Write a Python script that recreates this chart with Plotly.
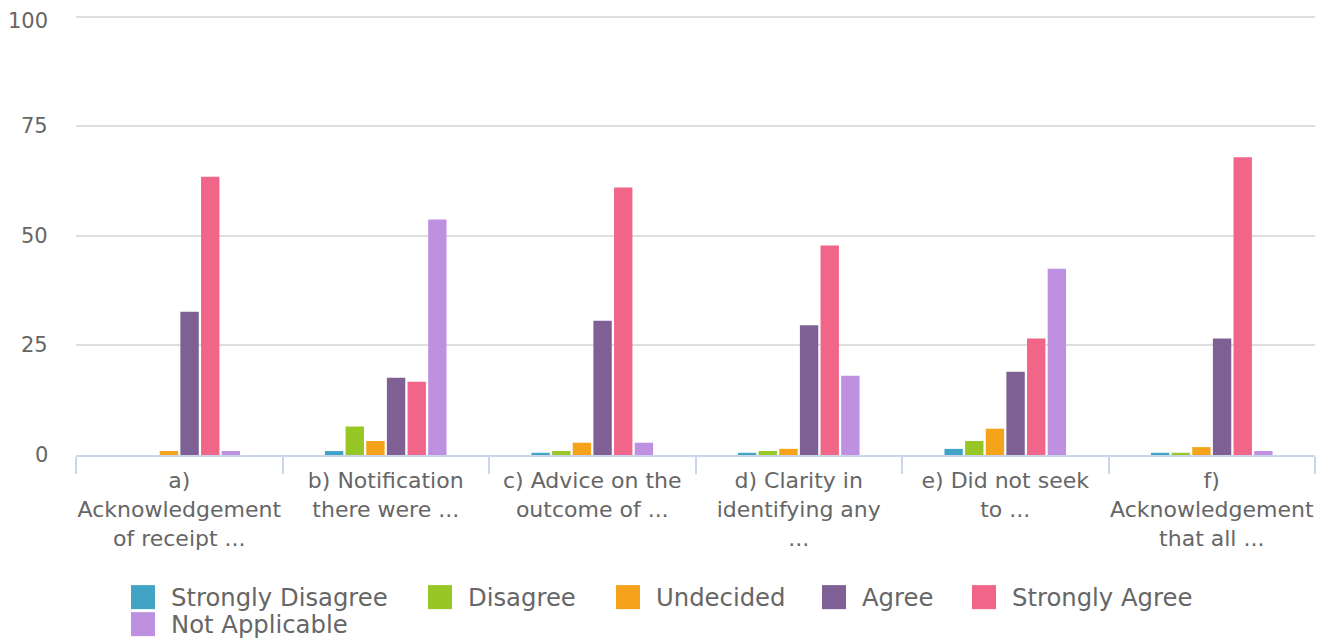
import plotly.graph_objects as go

categories = [
    "a)<br>Acknowledgement<br>of receipt ...",
    "b) Notification<br>there were ...",
    "c) Advice on the<br>outcome of ...",
    "d) Clarity in<br>identifying any<br>...",
    "e) Did not seek<br>to ...",
    "f)<br>Acknowledgement<br>that all ...",
]
series_names = ["Strongly Disagree", "Disagree", "Undecided", "Agree",
                "Strongly Agree", "Not Applicable"]
strongly_disagree = [0, 0.9, 0.5, 0.5, 1.4, 0.5]
disagree = [0, 6.5, 0.9, 0.9, 3.2, 0.5]
undecided = [0.9, 3.2, 2.8, 1.4, 6.0, 1.8]
agree = [32.7, 17.6, 30.6, 29.6, 19.0, 26.6]
strongly_agree = [63.5, 16.7, 61.0, 47.8, 26.6, 67.9]
not_applicable = [0.9, 53.7, 2.8, 18.1, 42.5, 0.9]
y_ticks = [0, 25, 50, 75, 100]

series_values = [strongly_disagree, disagree, undecided, agree,
                 strongly_agree, not_applicable]
colors = ["#42a4c5", "#96c724", "#f5a31b", "#7e6094", "#f06588", "#be91e0"]

FONT = "DejaVu Sans"
TXT = "#666666"

# the page body adds an 8px margin; compensate so the chart fills the window
OFF = 8
WIN_W, WIN_H = 1327, 638
W, H = WIN_W - OFF, WIN_H - OFF
Y_MAX = 100.6                      # a little headroom so the 100 gridline is drawn
PX_PER_UNIT = (455 - 17) / 100.0   # window pixels per value unit
L, R, B = 76 - OFF, 12, 183
PH = Y_MAX * PX_PER_UNIT
T = H - B - PH
PW = W - L - R

fig = go.Figure()
for name, vals, col in zip(series_names, series_values, colors):
    fig.add_trace(go.Bar(name=name, x=categories, y=vals, marker_color=col,
                         marker_line_width=0, showlegend=False,
                         hovertemplate="%{y}<extra>" + name + "</extra>"))

# custom legend (window pixel layout converted to paper coordinates)
legend_pos = [(131, 597), (428, 597), (616, 597), (822, 597), (972, 597), (131, 624)]
sw = 24
shapes = []
annotations = []
for (wx, wy), name, col in zip(legend_pos, series_names, colors):
    px, py = wx - OFF, wy - OFF
    x0 = (px - L) / PW
    x1 = (px + sw - L) / PW
    y0 = (H - B - (py + sw / 2)) / PH
    y1 = (H - B - (py - sw / 2)) / PH
    shapes.append(dict(type="rect", xref="paper", yref="paper", x0=x0, x1=x1,
                       y0=y0, y1=y1, fillcolor=col, line_width=0))
    annotations.append(dict(text=name, xref="paper", yref="paper",
                            x=(px + 38 - L) / PW, y=(H - B - py) / PH,
                            xanchor="left", yanchor="middle", showarrow=False,
                            font=dict(family=FONT, size=24.3, color=TXT)))

# y tick labels as annotations tied to the y scale (the top one is nudged
# down so it stays inside the page, as in the reference)
for v in y_ticks:
    annotations.append(dict(text=str(v), xref="paper", yref="y", x=0, y=v,
                            xanchor="right", yanchor="middle", xshift=-26,
                            yshift=-4 if v == max(y_ticks) else 0,
                            showarrow=False,
                            font=dict(family=FONT, size=21, color=TXT)))

fig.update_layout(
    width=W, height=H,
    margin=dict(l=L, r=R, t=T, b=B, pad=0),
    paper_bgcolor="white", plot_bgcolor="white",
    barmode="group", bargap=0.4, bargroupgap=0.11,
    font=dict(family=FONT, color=TXT),
    shapes=shapes, annotations=annotations,
    showlegend=False,
    xaxis=dict(type="category", tickson="boundaries", ticks="outside",
               ticklen=17, tickwidth=2, tickcolor="#ccd6eb",
               showline=True, linecolor="#ccd6eb", linewidth=2,
               showgrid=False, tickangle=0, ticklabelstandoff=5,
               automargin=False,
               tickfont=dict(family=FONT, size=22, color=TXT)),
    yaxis=dict(range=[0, Y_MAX], tickvals=y_ticks, showgrid=True,
               gridcolor="#dedede", gridwidth=1.5, zeroline=False,
               showline=False, ticks="", showticklabels=False,
               automargin=False),
)

fig.write_html("out.html")
